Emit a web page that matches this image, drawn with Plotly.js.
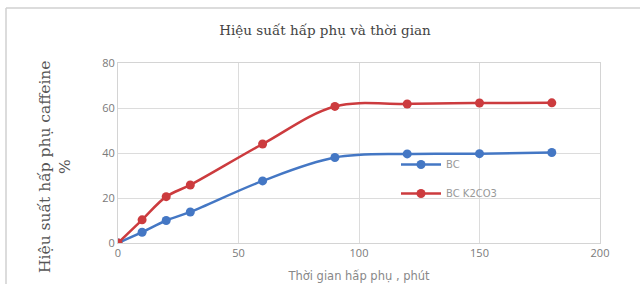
<!DOCTYPE html>
<html>
<head>
<meta charset="utf-8">
<script src="https://cdn.plot.ly/plotly-3.0.1.min.js"></script>
<style>html,body{margin:0;padding:0;background:#fff;}#chart{width:640px;height:284px;}</style>
</head>
<body>
<div id="chart"></div>
<script>
const timeMin = [0, 10, 20, 30, 60, 90, 120, 150, 180];
const bcValues = [0, 4.8, 10, 13.8, 27.6, 38, 39.6, 39.7, 40.2];
const bcK2co3Values = [0, 10.3, 20.6, 25.8, 44, 60.7, 61.8, 62.2, 62.3];
const seriesNames = ["BC", "BC K2CO3"];
const xTicks = [0, 50, 100, 150, 200];
const yTicks = [0, 20, 40, 60, 80];
const titleText = 'Hiệu suất hấp phụ và thời gian';
const xTitleText = 'Thời gian hấp phụ , phút';
const yTitleText = 'Hiệu suất hấp phụ caffeine<br>%';

const L = 118, R = 40, T = 63, B = 41, W = 640, H = 284;
const pw = W - L - R, ph = H - T - B;

const traces = [
  {x: timeMin, y: bcValues, name: seriesNames[0], type: 'scatter', mode: 'lines+markers', legendgroup: 'a',
   line: {color: '#4477c4', width: 2.5, shape: 'spline'},
   marker: {color: '#4477c4', size: 9}},
  {x: timeMin, y: bcK2co3Values, name: seriesNames[1], type: 'scatter', mode: 'lines+markers', legendgroup: 'b',
   line: {color: '#cc3b3e', width: 2.5, shape: 'spline'},
   marker: {color: '#cc3b3e', size: 9}}
];

const layout = {
  width: W, height: H,
  margin: {l: L, r: R, t: T, b: B},
  paper_bgcolor: '#fff', plot_bgcolor: '#fff',
  title: {text: titleText, font: {family: 'DejaVu Serif, serif', size: 13.5, color: '#444'},
          x: 325 / W, xanchor: 'center', y: 1 - 30 / H, yanchor: 'middle', xref: 'container', yref: 'container'},
  xaxis: {range: [0, 200], tickvals: xTicks, ticktext: xTicks.map(String), showgrid: true, gridcolor: '#dcdcdc', gridwidth: 1,
          zeroline: false, showline: true, mirror: true, linecolor: '#d4d4d4', linewidth: 1, ticks: '',
          tickfont: {family: 'Open Sans, sans-serif', size: 11, color: '#7a7a7a'},
          title: {text: xTitleText, font: {family: 'DejaVu Sans, sans-serif', size: 11.5, color: '#888'}, standoff: 12}},
  yaxis: {range: [0, 80], tickvals: yTicks, showgrid: true, gridcolor: '#dcdcdc', gridwidth: 1,
          zeroline: false, showline: true, mirror: true, linecolor: '#d4d4d4', linewidth: 1, ticks: '',
          tickfont: {family: 'Open Sans, sans-serif', size: 11, color: '#7a7a7a'}},
  annotations: [
    {text: yTitleText, xref: 'paper', yref: 'paper', x: (55 - L) / pw, y: (243 - 166) / ph,
     xanchor: 'center', yanchor: 'middle', textangle: -90, showarrow: false,
     font: {family: 'DejaVu Serif, serif', size: 15.5, color: '#555'}}
  ],
  showlegend: true,
  legend: {x: (396 - L) / pw, y: (243 - 150) / ph, xanchor: 'left', yanchor: 'top', bgcolor: 'rgba(0,0,0,0)',
           traceorder: 'grouped', tracegroupgap: 10,
           font: {family: 'DejaVu Sans, sans-serif', size: 10, color: '#999'}, itemwidth: 40},
  shapes: [
    {type: 'line', xref: 'paper', yref: 'paper', x0: (6 - L) / pw, x1: (W - L) / pw, y0: (H - B - 8) / ph, y1: (H - B - 8) / ph,
     line: {color: '#d0d0d0', width: 1.5}},
    {type: 'line', xref: 'paper', yref: 'paper', x0: (6 - L) / pw, x1: (6 - L) / pw, y0: (H - B - 8) / ph, y1: -B / ph,
     line: {color: '#d0d0d0', width: 1.5}}
  ]
};

Plotly.newPlot('chart', traces, layout, {staticPlot: true, displayModeBar: false});
</script>
</body>
</html>
